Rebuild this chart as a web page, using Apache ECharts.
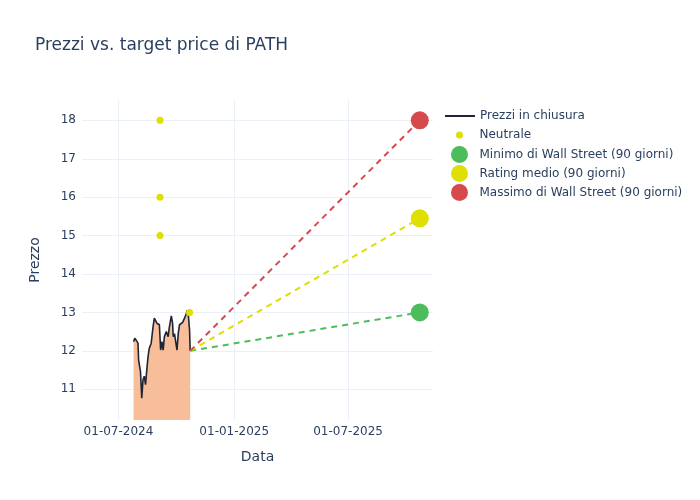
<!DOCTYPE html>
<html>
<head>
<meta charset="utf-8">
<script src="https://cdn.jsdelivr.net/npm/echarts@6/dist/echarts.min.js"></script>
<style>
  html, body { margin: 0; padding: 0; background: #fff; }
  #chart { width: 700px; height: 500px; }
</style>
</head>
<body>
<div id="chart"></div>
<script>
// closing prices
const closeDates = [
  '2024-07-25', '2024-07-27', '2024-07-29', '2024-08-01', '2024-08-02', '2024-08-05',
  '2024-08-07', '2024-08-09', '2024-08-11', '2024-08-13', '2024-08-15', '2024-08-17',
  '2024-08-19', '2024-08-22', '2024-08-25', '2024-08-27', '2024-08-29', '2024-08-31',
  '2024-09-02', '2024-09-04', '2024-09-06', '2024-09-08', '2024-09-10', '2024-09-12',
  '2024-09-15', '2024-09-18', '2024-09-20', '2024-09-23', '2024-09-25', '2024-09-26',
  '2024-09-28', '2024-09-30', '2024-10-02', '2024-10-04', '2024-10-06', '2024-10-09',
  '2024-10-11', '2024-10-14', '2024-10-17', '2024-10-18', '2024-10-20', '2024-10-22',
  '2024-10-23'
]
const closePrices = [
  12.24, 12.33, 12.31, 12.2, 11.76, 11.46,
  10.77, 11.25, 11.34, 11.12, 11.5, 11.85,
  12.07, 12.2, 12.63, 12.85, 12.85, 12.72,
  12.68, 12.68, 12.02, 12.24, 12.02, 12.37,
  12.5, 12.37, 12.63, 12.91, 12.72, 12.37,
  12.45, 12.5, 12.02, 12.45, 12.68, 12.72,
  12.74, 12.85, 12.98, 13.05, 12.94, 12.54,
  12.0
]

// analyst ratings (Neutrale)
const neutralDates = ['2024-09-05', '2024-09-05', '2024-09-05', '2024-10-22']
const neutralValues = [18, 16, 15, 13]

// Wall Street targets (90 days)
const targetDate = '2025-10-23'
const targetMin = 13
const targetAvg = 15.45
const targetMax = 18

const yTicks = [11, 12, 13, 14, 15, 16, 17, 18]
const xTicks = ['2024-07-01', '2025-01-01', '2025-07-01']

const textColor = '#2a3f5f'
const gridColor = '#ebf0f8'
const fontFamily = '"DejaVu Sans", verdana, sans-serif'

const ts = (d) => Date.parse(d + 'T00:00:00Z')
const lastDate = closeDates[closeDates.length - 1]
const lastClose = closePrices[closePrices.length - 1]

const pad = (n) => String(n).padStart(2, '0')
const formatDate = (value) => {
  const d = new Date(value)
  return pad(d.getUTCDate()) + '-' + pad(d.getUTCMonth() + 1) + '-' + d.getUTCFullYear()
}

const targetLine = (value, color) => ({
  type: 'line',
  data: [[ts(lastDate), lastClose], [ts(targetDate), value]],
  showSymbol: false,
  silent: true,
  lineStyle: { color: color, width: 2, type: [6, 5] },
  z: 3
})

const legendBase = (name, left, top, height) => ({
  data: [name],
  orient: 'vertical',
  left: left,
  top: top,
  itemWidth: 30,
  itemHeight: height,
  itemGap: 0,
  textStyle: { color: textColor, fontSize: 12, fontFamily: fontFamily },
  selectedMode: false
})

const options = {
  backgroundColor: '#fff',
  animation: false,
  title: {
    text: 'Prezzi vs. target price di PATH',
    left: 30,
    top: 32,
    textStyle: { color: textColor, fontSize: 17, fontWeight: 'normal', fontFamily: fontFamily }
  },
  legend: [
    Object.assign(legendBase('Prezzi in chiusura', 440, 105, 14), {
      data: [{ name: 'Prezzi in chiusura', icon: 'path://M0,6 L30,6 L30,8 L0,8 Z' }]
    }),
    legendBase('Neutrale', 451, 124, 7),
    legendBase('Minimo di Wall Street (90 giorni)', 446, 141, 17),
    legendBase('Rating medio (90 giorni)', 446, 160, 17),
    legendBase('Massimo di Wall Street (90 giorni)', 446, 179, 17)
  ],
  grid: { left: 82, right: 267, top: 100, bottom: 80 },
  xAxis: {
    type: 'value',
    min: ts('2024-05-04'),
    max: ts('2025-11-13'),
    name: 'Data',
    nameLocation: 'middle',
    nameGap: 30,
    nameTextStyle: { color: textColor, fontSize: 14, fontFamily: fontFamily },
    axisLine: { show: false },
    axisTick: { show: false, customValues: xTicks.map(ts) },
    axisLabel: {
      color: textColor,
      fontSize: 12,
      fontFamily: fontFamily,
      margin: 6,
      customValues: xTicks.map(ts),
      formatter: formatDate
    },
    splitLine: { show: true, lineStyle: { color: gridColor, width: 1 } }
  },
  yAxis: {
    type: 'value',
    min: 10.2,
    max: 18.53,
    name: 'Prezzo',
    nameLocation: 'middle',
    nameGap: 40,
    nameTextStyle: { color: textColor, fontSize: 14, fontFamily: fontFamily },
    axisLine: { show: false },
    axisTick: { show: false, customValues: yTicks },
    axisLabel: { color: textColor, fontSize: 12, fontFamily: fontFamily, margin: 6, customValues: yTicks },
    splitLine: { show: true, lineStyle: { color: gridColor, width: 1 } }
  },
  series: [
    {
      name: 'Prezzi in chiusura',
      type: 'line',
      data: closeDates.map((d, i) => [ts(d), closePrices[i]]),
      showSymbol: false,
      lineStyle: { color: '#1f2536', width: 1.6 },
      itemStyle: { color: '#1f2536' },
      areaStyle: { color: '#f8be9a', opacity: 1, origin: 'start' },
      z: 2
    },
    targetLine(targetMin, '#4cbd5a'),
    targetLine(targetAvg, '#dfdf00'),
    targetLine(targetMax, '#d64a4e'),
    {
      name: 'Neutrale',
      type: 'scatter',
      data: neutralDates.map((d, i) => [ts(d), neutralValues[i]]),
      symbolSize: 7,
      itemStyle: { color: '#dfdf00', opacity: 1 },
      z: 5
    },
    {
      name: 'Minimo di Wall Street (90 giorni)',
      type: 'scatter',
      data: [[ts(targetDate), targetMin]],
      symbolSize: 18,
      itemStyle: { color: '#4cbd5a', opacity: 1 },
      z: 5
    },
    {
      name: 'Rating medio (90 giorni)',
      type: 'scatter',
      data: [[ts(targetDate), targetAvg]],
      symbolSize: 18,
      itemStyle: { color: '#dfdf00', opacity: 1 },
      z: 5
    },
    {
      name: 'Massimo di Wall Street (90 giorni)',
      type: 'scatter',
      data: [[ts(targetDate), targetMax]],
      symbolSize: 18,
      itemStyle: { color: '#d64a4e', opacity: 1 },
      z: 5
    }
  ]
}

const chartInstance = echarts.init(document.getElementById('chart'), null, { renderer: 'canvas' })
chartInstance.setOption(options)
</script>
</body>
</html>
